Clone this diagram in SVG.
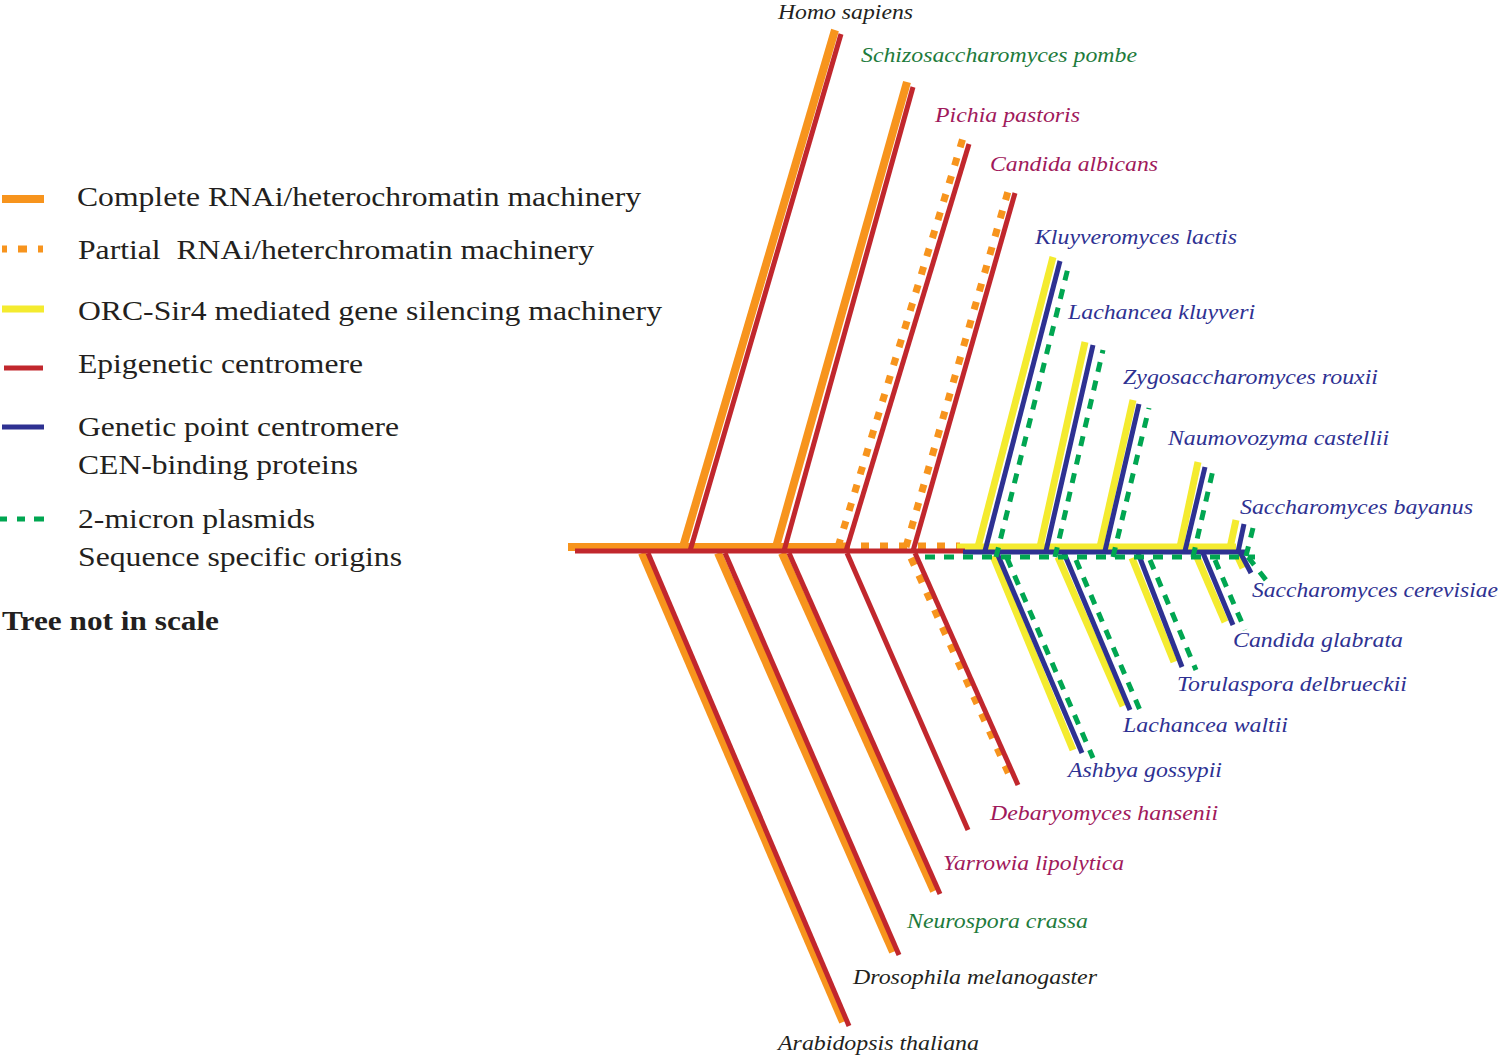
<svg xmlns="http://www.w3.org/2000/svg" width="1500" height="1057" viewBox="0 0 1500 1057">
<style>
.or{stroke:#F7941D;stroke-width:8;fill:none}
.ord{stroke:#F7941D;stroke-width:7;fill:none;stroke-dasharray:8 11}
.rd{stroke:#C1272D;stroke-width:5;fill:none}
.ye{stroke:#F4EB2F;stroke-width:7;fill:none}
.bl{stroke:#2E3192;stroke-width:5;fill:none}
.gr{stroke:#00A651;stroke-width:5;fill:none;stroke-dasharray:10 9}
.sp{font-family:"Liberation Serif","Times New Roman",serif;font-style:italic;font-size:22px}
.lg{font-family:"Liberation Serif","Times New Roman",serif;font-size:28px;fill:#231F20}
.k{fill:#231F20}.g{fill:#1E7B3C}.m{fill:#A0195B}.b{fill:#2E3192}
</style>
<rect width="1500" height="1057" fill="#fff"/>
<g id="legend">
<line class="or" x1="2" y1="199" x2="44" y2="199"/>
<line x1="2" y1="249" x2="44" y2="249" stroke="#F7941D" stroke-width="7" stroke-dasharray="5 11 9 11 5"/>
<line class="ye" x1="2" y1="309" x2="44" y2="309"/>
<line class="rd" x1="4" y1="368" x2="43" y2="368"/>
<line class="bl" x1="2" y1="427" x2="44" y2="427"/>
<line x1="0" y1="519" x2="44" y2="519" stroke="#00A651" stroke-width="5" stroke-dasharray="7 10 8 9 10"/>
<text class="lg" x="77" y="206" textLength="564" lengthAdjust="spacingAndGlyphs">Complete RNAi/heterochromatin machinery</text>
<text class="lg" x="78" y="259" textLength="516" lengthAdjust="spacingAndGlyphs" xml:space="preserve">Partial  RNAi/heterchromatin machinery</text>
<text class="lg" x="78" y="320" textLength="584" lengthAdjust="spacingAndGlyphs">ORC-Sir4 mediated gene silencing machinery</text>
<text class="lg" x="78" y="373" textLength="285" lengthAdjust="spacingAndGlyphs">Epigenetic centromere</text>
<text class="lg" x="78" y="436" textLength="321" lengthAdjust="spacingAndGlyphs">Genetic point centromere</text>
<text class="lg" x="78" y="474" textLength="280" lengthAdjust="spacingAndGlyphs">CEN-binding proteins</text>
<text class="lg" x="78" y="528" textLength="237" lengthAdjust="spacingAndGlyphs">2-micron plasmids</text>
<text class="lg" x="78" y="566" textLength="324" lengthAdjust="spacingAndGlyphs">Sequence specific origins</text>
<text class="lg" x="2" y="630" font-weight="bold" textLength="217" lengthAdjust="spacingAndGlyphs">Tree not in scale</text>
</g>
<g id="connectors">
<line class="or" x1="568" y1="547" x2="842" y2="547"/>
<line class="ord" x1="842" y1="546" x2="960" y2="546"/>
<line class="ye" x1="957" y1="547" x2="1236" y2="547"/>
<line class="or" x1="683" y1="547" x2="835" y2="30"/>
<line class="rd" x1="690" y1="551" x2="841" y2="34"/>
<line class="or" x1="776" y1="547" x2="907" y2="82"/>
<line class="rd" x1="784" y1="551" x2="913" y2="87"/>
<line class="ord" x1="838" y1="547" x2="963" y2="138"/>
<line class="rd" x1="846" y1="551" x2="969" y2="144"/>
<line class="ord" x1="906" y1="547" x2="1009" y2="188"/>
<line class="rd" x1="913" y1="551" x2="1015" y2="193"/>
<line class="or" x1="642" y1="553" x2="843" y2="1022"/>
<line class="rd" x1="648" y1="553" x2="849" y2="1026"/>
<line class="or" x1="718" y1="553" x2="893" y2="952"/>
<line class="rd" x1="725" y1="553" x2="899" y2="955"/>
<line class="or" x1="782" y1="553" x2="934" y2="891"/>
<line class="rd" x1="789" y1="553" x2="940" y2="894"/>
<line class="rd" x1="847" y1="553" x2="968" y2="830"/>
<line class="ord" x1="911" y1="558" x2="1012" y2="781"/>
<line class="rd" x1="915" y1="553" x2="1018" y2="785"/>
<line class="rd" x1="575" y1="551" x2="965" y2="551"/>
<line class="ye" x1="978" y1="547" x2="1053" y2="257"/>
<line class="ye" x1="1040" y1="547" x2="1085" y2="342"/>
<line class="ye" x1="1100" y1="547" x2="1133" y2="400"/>
<line class="ye" x1="1180" y1="547" x2="1198" y2="462"/>
<line class="ye" x1="1230" y1="548" x2="1236" y2="520"/>
<line class="ye" x1="993" y1="556" x2="1073" y2="750"/>
<line class="ye" x1="1058" y1="557" x2="1123" y2="706"/>
<line class="ye" x1="1132" y1="558" x2="1174" y2="662"/>
<line class="ye" x1="1197" y1="557" x2="1225" y2="622"/>
<line class="ye" x1="1237" y1="555" x2="1243" y2="568"/>
<line class="bl" x1="963" y1="552" x2="1246" y2="552"/>
<line class="bl" x1="985" y1="551" x2="1060" y2="261"/>
<line class="bl" x1="1046" y1="551" x2="1093" y2="345"/>
<line class="bl" x1="1105" y1="551" x2="1139" y2="404"/>
<line class="bl" x1="1185" y1="551" x2="1205" y2="467"/>
<line class="bl" x1="1238" y1="552" x2="1244" y2="524"/>
<line class="bl" x1="997" y1="553" x2="1082" y2="753"/>
<line class="bl" x1="1064" y1="553" x2="1130" y2="710"/>
<line class="bl" x1="1138" y1="553" x2="1182" y2="667"/>
<line class="bl" x1="1203" y1="553" x2="1233" y2="625"/>
<line class="bl" x1="1240" y1="552" x2="1251" y2="573"/>
<line class="gr" x1="925" y1="557" x2="1255" y2="557"/>
<line class="gr" x1="996" y1="557" x2="1069" y2="264"/>
<line class="gr" x1="1055" y1="557" x2="1103" y2="350"/>
<line class="gr" x1="1113" y1="557" x2="1149" y2="408"/>
<line class="gr" x1="1193" y1="557" x2="1213" y2="470"/>
<line class="gr" x1="1246" y1="556" x2="1253" y2="528"/>
<line class="gr" x1="1007" y1="558" x2="1093" y2="758"/>
<line class="gr" x1="1076" y1="560" x2="1142" y2="715"/>
<line class="gr" x1="1150" y1="560" x2="1196" y2="670"/>
<line class="gr" x1="1215" y1="560" x2="1245" y2="630"/>
<line class="gr" x1="1248" y1="557" x2="1266" y2="580"/>
</g>
<g id="homo_sapiens"><text class="sp k" x="778" y="19" font-size="21" textLength="135" lengthAdjust="spacingAndGlyphs">Homo sapiens</text></g>
<g id="schizosaccharomyces_pombe"><text class="sp g" x="861" y="62" textLength="276" lengthAdjust="spacingAndGlyphs">Schizosaccharomyces pombe</text></g>
<g id="pichia_pastoris"><text class="sp m" x="935" y="122" textLength="145" lengthAdjust="spacingAndGlyphs">Pichia pastoris</text></g>
<g id="candida_albicans"><text class="sp m" x="990" y="171" textLength="168" lengthAdjust="spacingAndGlyphs">Candida albicans</text></g>
<g id="kluyveromyces_lactis"><text class="sp b" x="1035" y="244" textLength="202" lengthAdjust="spacingAndGlyphs">Kluyveromyces lactis</text></g>
<g id="lachancea_kluyveri"><text class="sp b" x="1068" y="319" textLength="187" lengthAdjust="spacingAndGlyphs">Lachancea kluyveri</text></g>
<g id="zygosaccharomyces_rouxii"><text class="sp b" x="1123" y="384" textLength="255" lengthAdjust="spacingAndGlyphs">Zygosaccharomyces rouxii</text></g>
<g id="naumovozyma_castellii"><text class="sp b" x="1168" y="445" textLength="221" lengthAdjust="spacingAndGlyphs">Naumovozyma castellii</text></g>
<g id="saccharomyces_bayanus"><text class="sp b" x="1240" y="514" textLength="233" lengthAdjust="spacingAndGlyphs">Saccharomyces bayanus</text></g>
<g id="saccharomyces_cerevisiae"><text class="sp b" x="1252" y="597" textLength="246" lengthAdjust="spacingAndGlyphs">Saccharomyces cerevisiae</text></g>
<g id="candida_glabrata"><text class="sp b" x="1233" y="647" textLength="170" lengthAdjust="spacingAndGlyphs">Candida glabrata</text></g>
<g id="torulaspora_delbrueckii"><text class="sp b" x="1177" y="691" textLength="230" lengthAdjust="spacingAndGlyphs">Torulaspora delbrueckii</text></g>
<g id="lachancea_waltii"><text class="sp b" x="1123" y="732" textLength="165" lengthAdjust="spacingAndGlyphs">Lachancea waltii</text></g>
<g id="ashbya_gossypii"><text class="sp b" x="1068" y="777" textLength="154" lengthAdjust="spacingAndGlyphs">Ashbya gossypii</text></g>
<g id="debaryomyces_hansenii"><text class="sp m" x="990" y="820" textLength="228" lengthAdjust="spacingAndGlyphs">Debaryomyces hansenii</text></g>
<g id="yarrowia_lipolytica"><text class="sp m" x="943" y="870" textLength="181" lengthAdjust="spacingAndGlyphs">Yarrowia lipolytica</text></g>
<g id="neurospora_crassa"><text class="sp g" x="907" y="928" textLength="181" lengthAdjust="spacingAndGlyphs">Neurospora crassa</text></g>
<g id="drosophila_melanogaster"><text class="sp k" x="853" y="984" textLength="244" lengthAdjust="spacingAndGlyphs">Drosophila melanogaster</text></g>
<g id="arabidopsis_thaliana"><text class="sp k" x="778" y="1050" textLength="201" lengthAdjust="spacingAndGlyphs">Arabidopsis thaliana</text></g>
</svg>
